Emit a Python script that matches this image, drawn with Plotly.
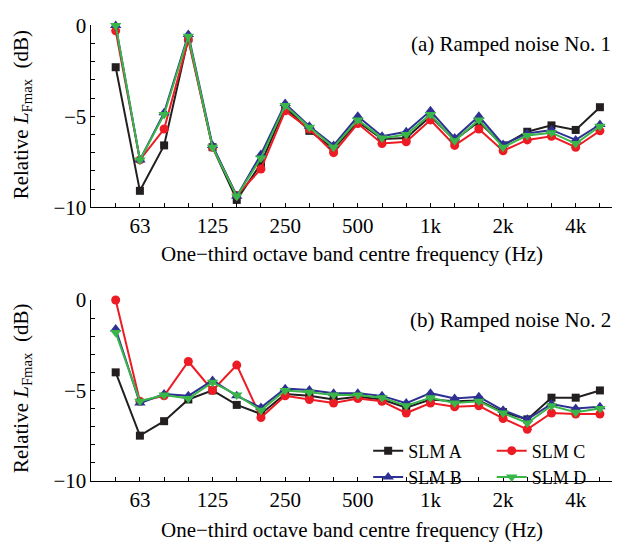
import plotly.graph_objects as go

bands = ["50", "63", "80", "100", "125", "160", "200", "250", "315", "400", "500",
         "630", "800", "1k", "1.25k", "1.6k", "2k", "2.5k", "3.15k", "4k", "5k"]
major_labels = ["63", "125", "250", "500", "1k", "2k", "4k"]

# Panel (a): Ramped noise No. 1
a_A = [-2.3, -9.1, -6.6, -0.7, -6.7, -9.6, -7.6, -4.5, -5.8, -6.8, -5.3, -6.25, -6.2, -5.0,
       -6.3, -5.3, -6.6, -5.85, -5.5, -5.75, -4.5]
a_B = [0.0, -7.4, -4.8, -0.5, -6.6, -9.4, -7.1, -4.3, -5.55, -6.6, -5.0, -6.1, -5.85, -4.7,
       -6.2, -5.0, -6.55, -5.95, -5.75, -6.3, -5.45]
a_C = [-0.3, -7.4, -5.7, -0.8, -6.7, -9.35, -7.9, -4.7, -5.7, -7.0, -5.4, -6.5, -6.4, -5.2,
       -6.6, -5.7, -6.9, -6.3, -6.1, -6.7, -5.8]
a_D = [0.0, -7.4, -4.9, -0.6, -6.7, -9.4, -7.3, -4.4, -5.6, -6.7, -5.2, -6.2, -6.0, -4.9,
       -6.35, -5.2, -6.7, -6.05, -5.9, -6.5, -5.55]

# Panel (b): Ramped noise No. 2
b_A = [-4.0, -7.5, -6.7, -5.5, -5.0, -5.8, -6.3, -5.2, -5.3, -5.5, -5.35, -5.5, -5.95, -5.5,
       -5.6, -5.55, -6.2, -6.6, -5.4, -5.4, -5.0]
b_B = [-1.6, -5.7, -5.2, -5.3, -4.45, -5.3, -5.95, -4.9, -4.97, -5.15, -5.15, -5.3, -5.7, -5.15,
       -5.45, -5.35, -6.1, -6.6, -5.75, -6.0, -5.9]
b_C = [0.0, -5.6, -5.3, -3.4, -5.0, -3.6, -6.5, -5.3, -5.5, -5.7, -5.45, -5.6, -6.25, -5.7,
       -5.9, -5.85, -6.55, -7.15, -6.25, -6.3, -6.3]
b_D = [-1.8, -5.6, -5.25, -5.45, -4.55, -5.25, -6.1, -5.0, -5.1, -5.25, -5.25, -5.4, -5.85, -5.4,
       -5.7, -5.6, -6.25, -6.8, -5.85, -6.2, -6.0]

colors = {"SLM A": "#231F20", "SLM B": "#2E3192", "SLM C": "#ED1C24", "SLM D": "#39B54A"}
symbols = {"SLM A": "square", "SLM B": "triangle-up", "SLM C": "circle", "SLM D": "triangle-down"}
sizes = {"SLM A": 8, "SLM B": 10, "SLM C": 9, "SLM D": 10}
legend_of = {"SLM A": "legend", "SLM B": "legend", "SLM C": "legend2", "SLM D": "legend2"}

data_a = {"SLM A": a_A, "SLM B": a_B, "SLM C": a_C, "SLM D": a_D}
data_b = {"SLM A": b_A, "SLM B": b_B, "SLM C": b_C, "SLM D": b_D}

FONT = "Liberation Serif, Times New Roman, serif"
x = list(range(len(bands)))
major_idx = [bands.index(b) for b in major_labels]

fig = go.Figure()
for panel, (data, xa, ya) in enumerate([(data_a, "x", "y"), (data_b, "x2", "y2")]):
    for name in ["SLM A", "SLM C", "SLM B", "SLM D"]:
        fig.add_trace(go.Scatter(
            x=x, y=data[name], mode="lines+markers", name=name,
            xaxis=xa, yaxis=ya, cliponaxis=False,
            line=dict(color=colors[name], width=2),
            marker=dict(symbol=symbols[name], size=sizes[name], color=colors[name]),
            showlegend=(panel == 1), legend=legend_of[name],
        ))

xcommon = dict(range=[-1, 20.5], tickmode="array", tickvals=major_idx, ticktext=major_labels,
               ticks="inside", ticklen=4, tickwidth=1, tickcolor="black",
               minor=dict(tickmode="array", tickvals=x, ticks="inside", ticklen=4, tickcolor="black"),
               showline=True, linecolor="black", linewidth=1, showgrid=False,
               zeroline=False, tickfont=dict(family=FONT, size=21, color="black"),
               domain=[0.1466, 0.9808])
ycommon = dict(range=[-10, 0], tickmode="array", tickvals=[0, -5, -10],
               ticktext=["0", "\u22125", "\u221210"],
               ticks="inside", ticklen=4, tickwidth=1, tickcolor="black",
               minor=dict(tickmode="linear", tick0=0, dtick=1, ticks="inside", ticklen=4, tickcolor="black"),
               showline=True, linecolor="black", linewidth=1, showgrid=False,
               zeroline=False, tickfont=dict(family=FONT, size=21, color="black"))

fig.update_layout(
    width=624, height=556,
    margin=dict(l=0, r=0, t=0, b=0),
    paper_bgcolor="white", plot_bgcolor="white",
    font=dict(family=FONT, size=21, color="black"),
    xaxis=dict(**xcommon, anchor="y"),
    yaxis=dict(**ycommon, domain=[0.6331, 0.9748], anchor="x"),
    xaxis2=dict(**xcommon, anchor="y2"),
    yaxis2=dict(**ycommon, domain=[0.1187, 0.4586], anchor="x2"),
    legend=dict(x=0.59, y=0.2096, xanchor="left", yanchor="top", bgcolor="rgba(0,0,0,0)",
                font=dict(family=FONT, size=18), tracegroupgap=0, itemwidth=30),
    legend2=dict(x=0.788, y=0.2096, xanchor="left", yanchor="top", bgcolor="rgba(0,0,0,0)",
                 font=dict(family=FONT, size=18), tracegroupgap=0, itemwidth=30),
)

title_txt = "Relative <i>L</i><sub>Fmax</sub>  (dB)"
xtitle = "One\u2212third octave band centre frequency (Hz)"
annos = [
    dict(text=title_txt, x=22 / 624, y=1 - 108 / 556, textangle=-90),
    dict(text=title_txt, x=22 / 624, y=1 - 394 / 556, textangle=-90),
    dict(text=xtitle, x=352 / 624, y=1 - 253 / 556),
    dict(text=xtitle, x=352 / 624, y=1 - 541 / 556),
]
for a in annos:
    fig.add_annotation(xref="paper", yref="paper", showarrow=False,
                       xanchor="center", yanchor="middle",
                       font=dict(family=FONT, size=21, color="black"), **a)
fig.add_annotation(text="(a) Ramped noise No. 1", xref="paper", yref="paper",
                   x=613 / 624, y=1 - 33 / 556, xanchor="right", yanchor="middle",
                   showarrow=False, font=dict(family=FONT, size=21, color="black"))
fig.add_annotation(text="(b) Ramped noise No. 2", xref="paper", yref="paper",
                   x=613 / 624, y=1 - 322 / 556, xanchor="right", yanchor="middle",
                   showarrow=False, font=dict(family=FONT, size=21, color="black"))

fig.write_html("out.html")
